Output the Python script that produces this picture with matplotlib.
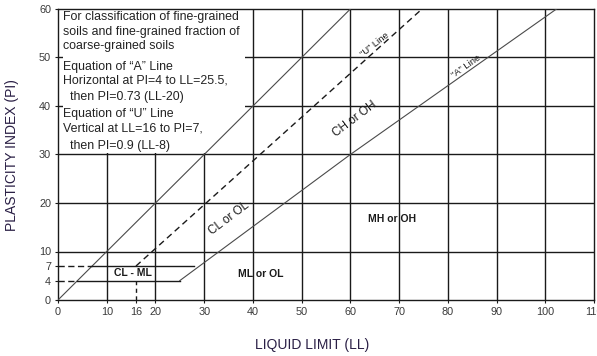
import matplotlib
matplotlib.use("Agg")
import matplotlib.pyplot as plt
from matplotlib.patches import Rectangle

plt.rcParams['font.family'] = ['Liberation Sans', 'DejaVu Sans']

# ---- data ----
x_ticks = [0, 10, 16, 20, 30, 40, 50, 60, 70, 80, 90, 100, 110]
y_ticks = [0, 4, 7, 10, 20, 30, 40, 50, 60]
grid_x = [10, 20, 30, 40, 50, 60, 70, 80, 90, 100]
grid_y = [10, 20, 30, 40, 50]

diag_ll = [0, 60]
diag_pi = [0, 60]
a_ll = [25, 60, 102.3]
a_pi = [4, 30, 60]
u_ll = [16, 74.7]
u_pi = [7, 60]
clml_pi = [4, 7]
clml_start = [4, 7]
clml_end = [25, 28]
u_vert_ll = 16

note_lines = [
    "For classification of fine-grained",
    "soils and fine-grained fraction of",
    "coarse-grained soils",
    "Equation of \u201cA\u201d Line",
    "Horizontal at PI=4 to LL=25.5,",
    "  then PI=0.73 (LL-20)",
    "Equation of \u201cU\u201d Line",
    "Vertical at LL=16 to PI=7,",
    "  then PI=0.9 (LL-8)",
]
note_pi = [58.4, 55.2, 52.4, 48.1, 45.2, 41.9, 38.3, 35.3, 31.8]

fig = plt.figure(figsize=(5.97, 3.56), dpi=100)
ax = fig.add_axes([58/597, 1-300/356, 536/597, 291/356])
ax.set_xlim(0, 110)
ax.set_ylim(0, 60)

gc = '#1a1a1a'
# grid
ax.vlines(grid_x, 0, 60, colors=gc, lw=1.0, zorder=1)
ax.hlines(grid_y, 0, 110, colors=gc, lw=1.0, zorder=1)

# white note box
ax.add_patch(Rectangle((1.1, 30.4), 37.3, 29.6, facecolor='white', edgecolor='none', zorder=2))

lc = '#4a4a4a'
ax.plot(diag_ll, diag_pi, color=lc, lw=0.8, zorder=3)
ax.plot(a_ll, a_pi, color=lc, lw=0.8, zorder=3)
ax.plot(u_ll, u_pi, color=gc, lw=1.0, ls=(0, (4.5, 3)), zorder=3)

# CL-ML band lines
for p, s, e in zip(clml_pi, clml_start, clml_end):
    ax.plot([0, s], [p, p], color=gc, lw=1.0, ls=(0, (4.5, 2.5)), zorder=3)
    ax.plot([s, e], [p, p], color=gc, lw=1.0, zorder=3)
ax.plot([u_vert_ll, u_vert_ll], [0, clml_pi[0]], color=gc, lw=1.0, ls=(0, (3, 2.5)), zorder=3)

# note text
for t, p in zip(note_lines, note_pi):
    ax.text(1.1, p, t, fontsize=8.9, color='#222222', va='center', ha='left', zorder=4)

# zone labels
lbl = dict(color='#1a1a1a', zorder=4, ha='center', va='center')
ax.text(15.3, 5.5, "CL - ML", fontsize=7.5, fontweight='bold', **lbl)
ax.text(41.7, 5.3, "ML or OL", fontsize=7.5, fontweight='bold', **lbl)
ax.text(68.5, 16.6, "MH or OH", fontsize=7.5, fontweight='bold', **lbl)
narrow = ['Liberation Sans Narrow', 'Liberation Sans']
ax.text(35, 16.8, "CL or OL", fontsize=8.5, rotation=37, family=narrow, **lbl)
ax.text(60.8, 37.3, "CH or OH", fontsize=8.5, rotation=37, family=narrow, **lbl)
ax.text(65, 52.6, "\u201cU\u201d Line", fontsize=6.8, rotation=38, **lbl)
ax.text(83.7, 48.2, "\u201cA\u201d Line", fontsize=6.8, rotation=35, **lbl)

# axes styling
ax.set_xticks(x_ticks)
ax.set_yticks(y_ticks)
ax.set_xticklabels([str(v) for v in x_ticks])
ax.set_yticklabels([str(v) for v in y_ticks])
ax.tick_params(axis='both', labelsize=7.8, labelcolor='#3a3a3a', length=2, width=0.8, color=gc, pad=3)
for s in ax.spines.values():
    s.set_color(gc)
    s.set_linewidth(1.0)

fig.text(312/597, 1-345/356, "LIQUID LIMIT (LL)", fontsize=10, color='#2a1f45', ha='center', va='center')
fig.text(12/597, 1-155/356, "PLASTICITY INDEX (PI)", fontsize=10, color='#2a1f45', ha='center', va='center', rotation=90)

fig.savefig("out.png", dpi=100)
